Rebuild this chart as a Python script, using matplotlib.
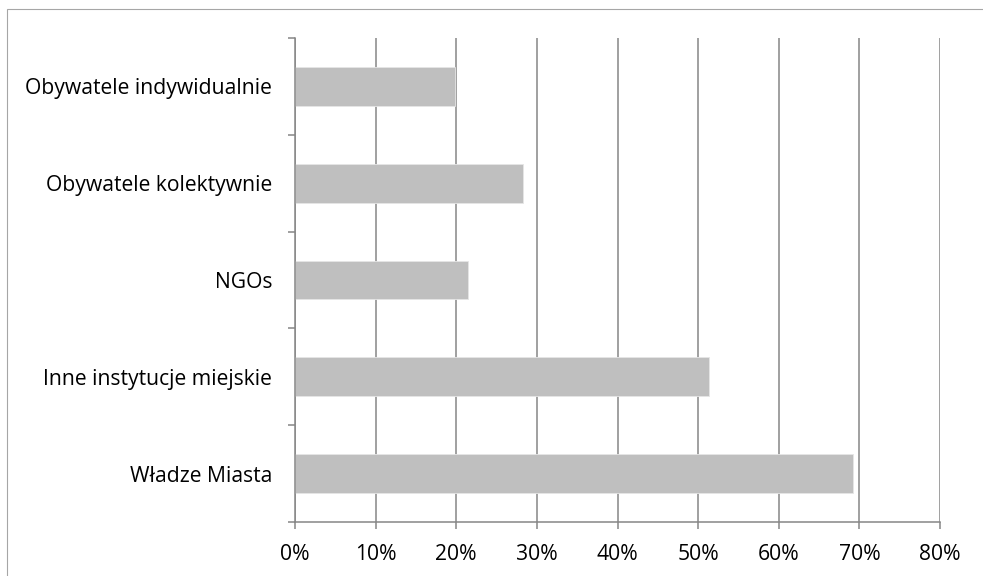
import numpy as np
import matplotlib
matplotlib.use("Agg")
import matplotlib.pyplot as plt
from matplotlib.patches import Rectangle
from matplotlib.ticker import FuncFormatter, MultipleLocator

# --- data (top to bottom as shown) ---
categories = ["Obywatele indywidualnie", "Obywatele kolektywnie", "NGOs",
              "Inne instytucje miejskie", "Władze Miasta"]
values = [19.8, 28.3, 21.4, 51.3, 69.2]

plt.rcParams['font.family'] = ['Open Sans', 'DejaVu Sans']

fig = plt.figure(figsize=(9.83, 5.76), dpi=100)
ax = fig.add_axes([295/983, 54/576, 645/983, 484/576])

# bottom category first so the order matches the picture
y = np.arange(len(categories))
ax.barh(y, values[::-1], height=0.4, color='#BFBFBF', edgecolor='#E6E6E6',
        linewidth=0.6, zorder=3)

grey = '#868686'
ax.set_xlim(0, 80)
ax.set_ylim(-0.5, len(categories) - 0.5)
ax.xaxis.set_major_locator(MultipleLocator(10))
ax.xaxis.set_major_formatter(FuncFormatter(lambda v, p: f"{v:.0f}%"))
ax.grid(axis='x', color=grey, linewidth=1.1, zorder=0)

ax.set_yticks(y)
ax.set_yticklabels(categories[::-1])
ax.set_yticks(np.arange(-0.5, len(categories)), minor=True)
ax.tick_params(axis='y', which='major', length=0, pad=16.5, labelsize=15.2)
ax.tick_params(axis='y', which='minor', length=5, width=1.1, color=grey)
ax.tick_params(axis='x', length=5, width=1.1, color=grey, pad=11, labelsize=15.2)

for s in ['top', 'right']:
    ax.spines[s].set_visible(False)
for s in ['left', 'bottom']:
    ax.spines[s].set_color(grey)
    ax.spines[s].set_linewidth(1.1)
    ax.spines[s].set_zorder(4)

# outer chart frame
fig.add_artist(Rectangle((7/983, -0.1), 2, (576 - 9)/576 + 0.1,
                         transform=fig.transFigure, fill=False,
                         edgecolor='#A6A6A6', linewidth=0.8))

fig.savefig("out.png", dpi=100)
